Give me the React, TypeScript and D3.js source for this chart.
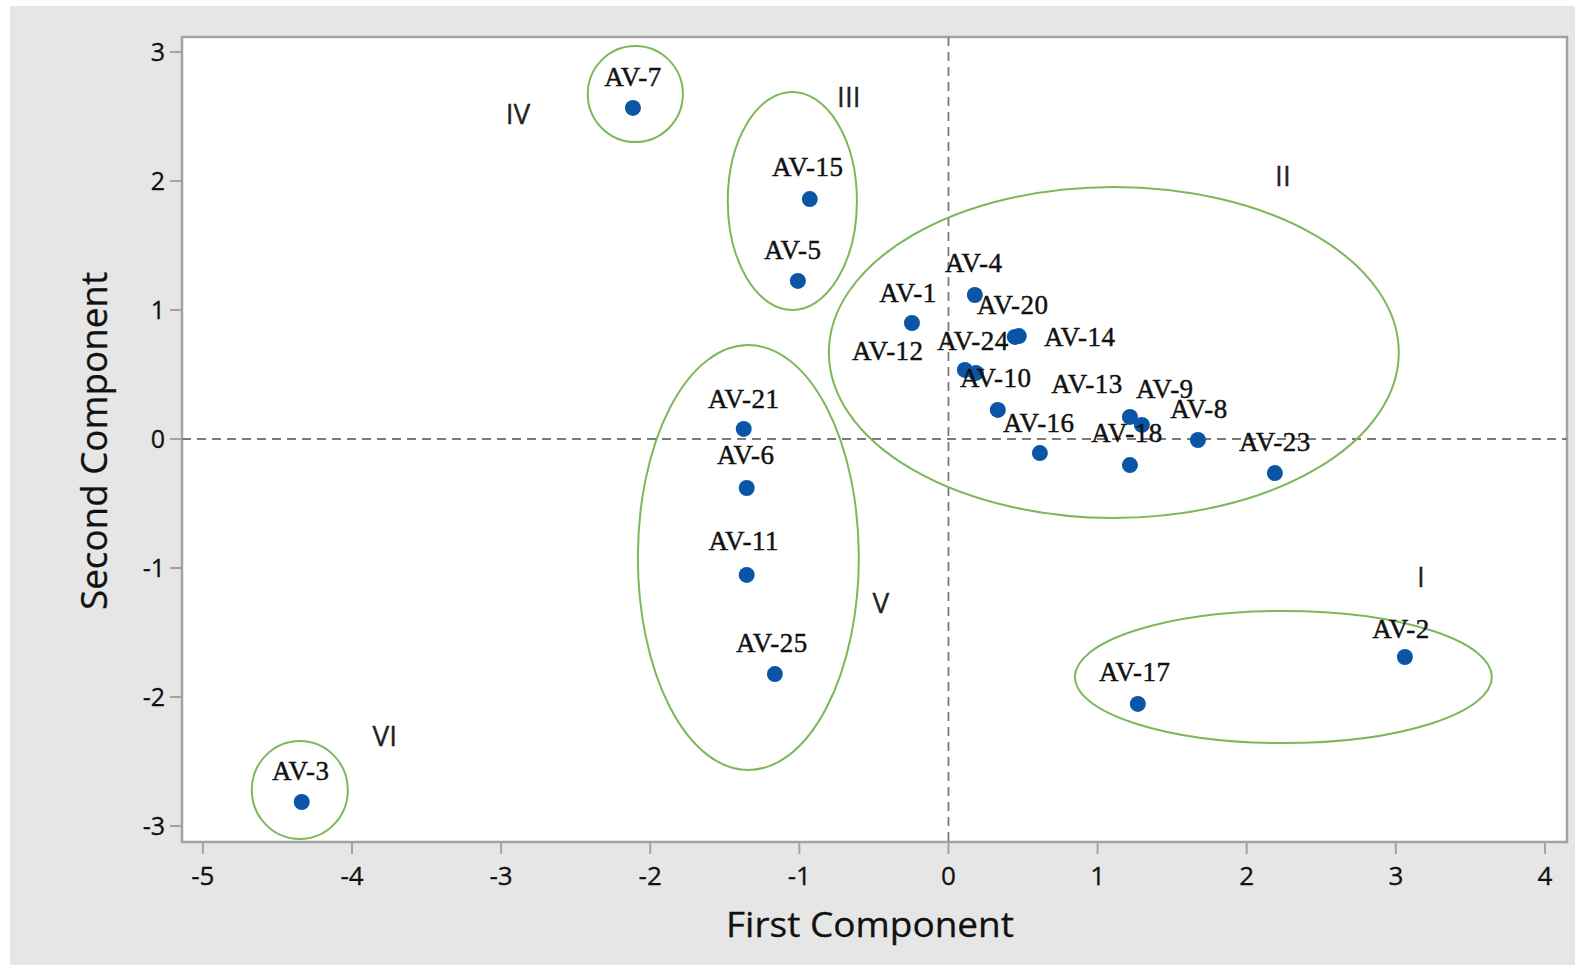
import React from "react";
import * as d3 from "d3";

const names = ["AV-7","AV-15","AV-5","AV-1","AV-12","AV-4","AV-20","AV-14","AV-24","AV-10","AV-16","AV-13","AV-9","AV-8","AV-18","AV-23","AV-21","AV-6","AV-11","AV-25","AV-3","AV-17","AV-2"];
const pc1 = [-2.116,-0.930,-1.010,-0.245,0.110,0.177,0.445,0.472,0.184,0.331,0.613,1.217,1.297,1.673,1.217,2.189,-1.373,-1.353,-1.353,-1.164,-4.337,1.270,3.061];
const pc2 = [2.566,1.860,1.225,0.899,0.535,1.116,0.791,0.798,0.512,0.225,-0.109,0.171,0.109,-0.008,-0.202,-0.264,0.078,-0.380,-1.054,-1.822,-2.814,-2.054,-1.690];
// label nudges in pixels (layout only)
const labelDx = [0,-2,-5,-4,-77,-1,-2,61,-3,-2,-1,-43,23,1,-3,0,0,-1,-3,-3,-1,-3,-4];
const labelDy = [-31,-32,-31,-30,-19,-32,-32,1,-32,-32,-30,-33,-36,-31,-32,-31,-30,-33,-34,-31,-31,-32,-28];

const groupNames = ["I","II","III","IV","V","VI"];
const groupCx = [2.246,1.109,-1.047,-2.100,-1.342,-4.350];
const groupCy = [-1.845,0.671,1.845,2.674,-0.919,-2.721];
const groupRx = [1.398,1.911,0.433,0.319,0.741,0.322];
const groupRy = [0.512,1.283,0.845,0.372,1.647,0.380];
const groupLabelX = [3.169,2.243,-0.668,-2.887,-0.454,-3.780];
const groupLabelY = [-1.07,2.039,2.651,2.519,-1.271,-2.302];

const xTicks = [-5,-4,-3,-2,-1,0,1,2,3,4];
const yTicks = [-3,-2,-1,0,1,2,3];

export default function App() {
  const W = 1575, H = 965;
  const L = 182, R = 1567, T = 37, B = 842;
  const x = d3.scaleLinear().domain([-5.14, 4.148]).range([L, R]);
  const y = d3.scaleLinear().domain([-3.124, 3.116]).range([B, T]);
  const sans = "'Open Sans', 'Noto Sans', sans-serif";
  const serif = "'Liberation Serif', 'DejaVu Serif', serif";
  return (
    <svg width={W} height={H} style={{ position: "absolute", left: 0, top: 0, background: "#fff" }}>
      <rect x={10} y={6} width={W - 10} height={H - 6} fill="#e6e6e6" />
      <rect x={L} y={T} width={R - L} height={B - T} fill="#fff" stroke="#a3a3a3" strokeWidth={2.5} />
      {/* reference lines */}
      <line x1={x(0)} x2={x(0)} y1={T} y2={B} stroke="#7a7a7a" strokeWidth={1.8} strokeDasharray="9,6" />
      <line x1={L} x2={R} y1={y(0)} y2={y(0)} stroke="#7a7a7a" strokeWidth={1.8} strokeDasharray="9,6" />
      {/* ticks */}
      {yTicks.map(t => (
        <g key={"y" + t}>
          <line x1={L - 12} x2={L} y1={y(t)} y2={y(t)} stroke="#a3a3a3" strokeWidth={2} />
          <text x={L - 17} y={y(t) + 9} textAnchor="end" fontFamily={sans} fontSize={25} fill="#111" stroke="#111" strokeWidth={0.3}>{t}</text>
        </g>
      ))}
      {xTicks.map(t => (
        <g key={"x" + t}>
          <line x1={x(t)} x2={x(t)} y1={B} y2={B + 12} stroke="#a3a3a3" strokeWidth={2} />
          <text x={x(t)} y={B + 43} textAnchor="middle" fontFamily={sans} fontSize={26} fill="#111" stroke="#111" strokeWidth={0.3}>{t}</text>
        </g>
      ))}
      {/* axis titles */}
      <text x={870} y={937} textAnchor="middle" fontFamily={sans} fontSize={34} fill="#111" stroke="#111" strokeWidth={0.3} textLength={288} lengthAdjust="spacingAndGlyphs">First Component</text>
      <text transform={`translate(107,441) rotate(-90)`} textAnchor="middle" fontFamily={sans} fontSize={36} fill="#111" stroke="#111" strokeWidth={0.3} textLength={338} lengthAdjust="spacingAndGlyphs">Second Component</text>
      {/* group ellipses */}
      {groupNames.map((g, i) => (
        <ellipse key={"e" + g} cx={x(groupCx[i])} cy={y(groupCy[i])}
          rx={x(groupCx[i] + groupRx[i]) - x(groupCx[i])}
          ry={y(groupCy[i]) - y(groupCy[i] + groupRy[i])}
          fill="none" stroke="#7cb85a" strokeWidth={2} />
      ))}
      {groupNames.map((g, i) => (
        <text key={"g" + g} x={x(groupLabelX[i])} y={y(groupLabelY[i]) + 10} textAnchor="middle"
          fontFamily="'Open Sans', sans-serif" fontSize={28} fill="#222" stroke="#222" strokeWidth={0.3}>{g}</text>
      ))}
      {/* points */}
      {names.map((n, i) => (
        <circle key={"p" + n} cx={x(pc1[i])} cy={y(pc2[i])} r={8} fill="#0a55a6" />
      ))}
      {names.map((n, i) => (
        <text key={"l" + n} x={x(pc1[i]) + labelDx[i]} y={y(pc2[i]) + labelDy[i] + 9}
          textAnchor="middle" fontFamily={serif} fontSize={27} letterSpacing={0.5} fill="#111" stroke="#111" strokeWidth={0.45}>{n}</text>
      ))}
    </svg>
  );
}
